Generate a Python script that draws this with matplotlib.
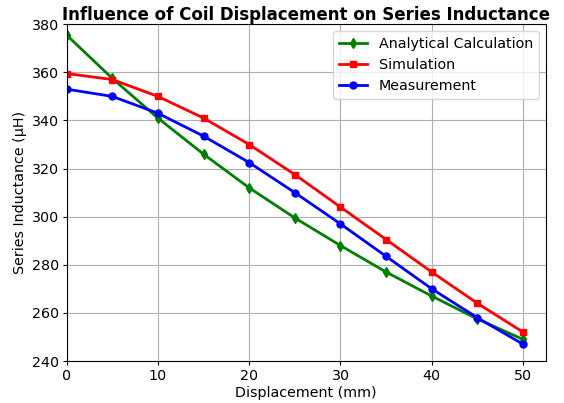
import numpy as np
import matplotlib
matplotlib.use('Agg')
from matplotlib import pyplot as plt

displacement = [0, 5, 10, 15, 20, 25, 30, 35, 40, 45, 50]
analytical = [375.5, 357.5, 341, 326, 312, 299.5, 288, 277, 267, 257.5, 249]
simulation = [359.5, 357, 350, 341, 330, 317.5, 304, 290.5, 277, 264, 252]
measurement = [353, 350, 343, 333.5, 322.5, 310, 297, 283.5, 270, 258, 247]

fig, ax = plt.subplots(figsize=(5.64, 4.03), dpi=100)

ax.plot(displacement, analytical, color='green', marker='d', markersize=5, linewidth=2, label='Analytical Calculation')
ax.plot(displacement, simulation, color='red', marker='s', markersize=5, linewidth=2, label='Simulation')
ax.plot(displacement, measurement, color='blue', marker='o', markersize=5, linewidth=2, label='Measurement')

ax.set_xlim(0, 52.5)
ax.set_ylim(240, 380)
ax.set_xticks([0, 10, 20, 30, 40, 50])
ax.grid(True, color='#b0b0b0', linewidth=0.8)
ax.tick_params(labelsize=10.3, length=3, pad=2.5)
ax.set_xlabel('Displacement (mm)', fontsize=10.3, labelpad=2)
ax.set_ylabel('Series Inductance (\u00b5H)', fontsize=10.3, labelpad=3)
ax.set_title('Influence of Coil Displacement on Series Inductance', fontsize=12, fontweight='bold', pad=3)
ax.legend(loc='upper right', fontsize=10.3)

plt.subplots_adjust(left=0.118, right=0.968, top=0.940, bottom=0.104)
plt.savefig('out.png', dpi=100)
